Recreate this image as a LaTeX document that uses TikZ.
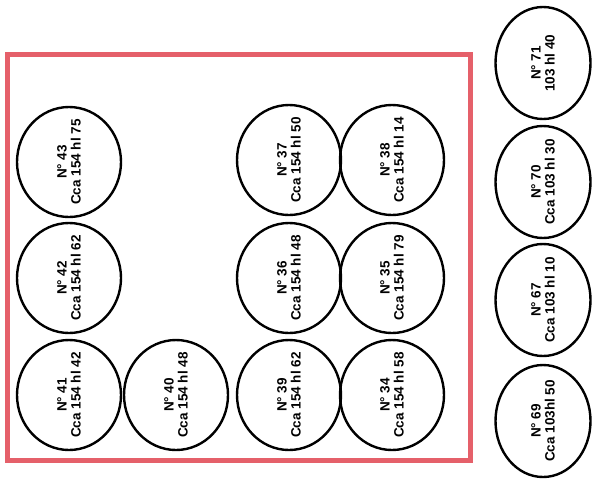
\documentclass[tikz,border=0pt]{standalone}
\usepackage{fontspec}
\setmainfont{Liberation Sans}
\usetikzlibrary{shapes.geometric}
\definecolor{frame}{RGB}{229,96,106}
\tikzset{
  tank/.style={draw=black, line width=2.4pt, ellipse, inner sep=0pt, minimum width=104pt, minimum height=110pt},
  tanks/.style={tank, minimum width=95pt, minimum height=112pt},
  lbl/.style={rotate=90, align=center, inner sep=0pt, font=\bfseries\fontsize{13.5}{14}\selectfont},
}
\begin{document}
\begin{tikzpicture}[x=1pt,y=-1pt]
\useasboundingbox (0,0) rectangle (593,493);
\node[draw=frame, line width=5pt, inner sep=0pt, minimum width=463pt, minimum height=406pt, anchor=north west] (box) at (5,52) {};
% column 1
\node[tank] (c43) at (69,162) {};
\node[lbl] (t43) at (c43) {N° 43\\Cca 154 hl 75};
\node[tank] (c42) at (69,278) {};
\node[lbl] (t42) at (c42) {N° 42\\Cca 154 hl 62};
\node[tank] (c41) at (69,395) {};
\node[lbl] (t41) at (c41) {N° 41\\Cca 154 hl 42};
% column 2
\node[tank] (c40) at (176,395) {};
\node[lbl] (t40) at (c40) {N° 40\\Cca 154 hl 48};
% column 3
\node[tank] (c37) at (289,160) {};
\node[lbl] (t37) at (c37) {N° 37\\Cca 154 hl 50};
\node[tank] (c36) at (289,278) {};
\node[lbl] (t36) at (c36) {N° 36\\Cca 154 hl 48};
\node[tank] (c39) at (289,395) {};
\node[lbl] (t39) at (c39) {N° 39\\Cca 154 hl 62};
% column 4
\node[tank] (c38) at (392,160) {};
\node[lbl] (t38) at (c38) {N° 38\\Cca 154 hl 14};
\node[tank] (c35) at (392,278) {};
\node[lbl] (t35) at (c35) {N° 35\\Cca 154 hl 79};
\node[tank] (c34) at (392,395) {};
\node[lbl] (t34) at (c34) {N° 34\\Cca 154 hl 58};
% right column
\node[tanks] (c71) at (543,63) {};
\node[lbl] (t71) at (c71) {N° 71\\103 hl 40};
\node[tanks] (c70) at (543,182) {};
\node[lbl] (t70) at (c70) {N° 70\\Cca 103 hl 30};
\node[tanks] (c67) at (543,300) {};
\node[lbl] (t67) at (c67) {N° 67\\Cca 103 hl 10};
\node[tanks] (c69) at (543,421) {};
\node[lbl] (t69) at (c69) {N° 69\\Cca 103hl 50};
\end{tikzpicture}
\end{document}
